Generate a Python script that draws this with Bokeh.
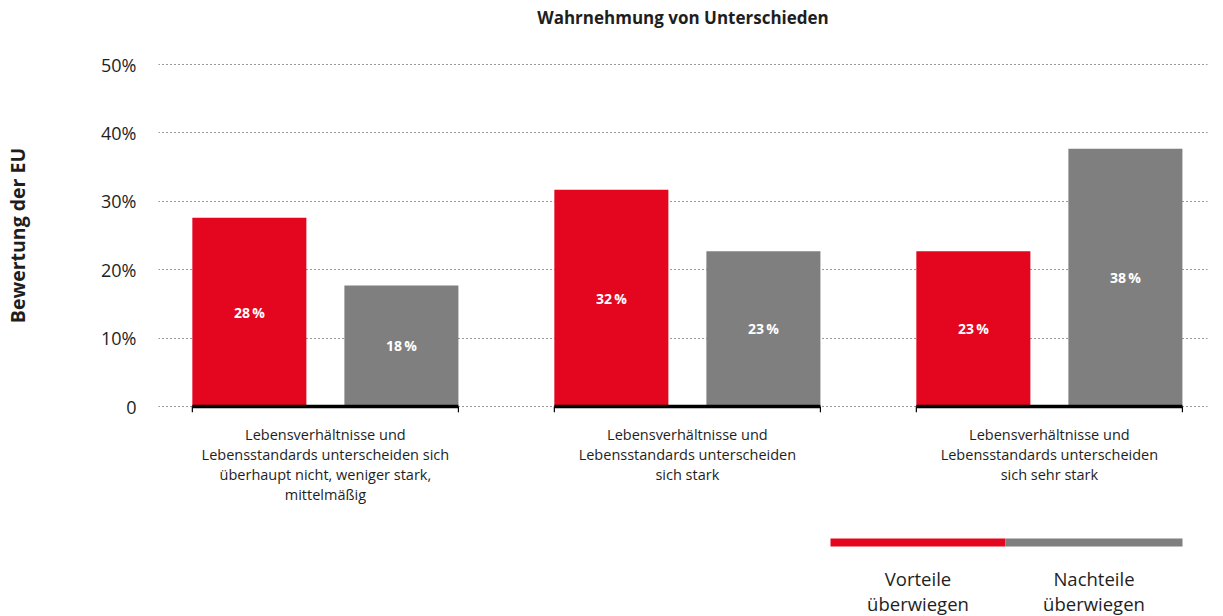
import math
from bokeh.plotting import figure
from bokeh.models import Range1d, FixedTicker, ColumnDataSource
from bokeh.layouts import row
from bokeh.embed import file_html
from bokeh.resources import INLINE
from bokeh.core.properties import value

# ---------------- data ----------------
title_text = "Wahrnehmung von Unterschieden"
y_title = "Bewertung der EU"
categories = [
    "Lebensverhältnisse und\nLebensstandards unterscheiden sich\nüberhaupt nicht, weniger stark,\nmittelmäßig",
    "Lebensverhältnisse und\nLebensstandards unterscheiden\nsich stark",
    "Lebensverhältnisse und\nLebensstandards unterscheiden\nsich sehr stark",
]
vorteile = [27.6, 31.7, 22.7]
nachteile = [17.7, 22.7, 37.7]
series_names = ["Vorteile\nüberwiegen", "Nachteile\nüberwiegen"]
y_ticks = [0, 10, 20, 30, 40, 50]
y_tick_labels = ["0", "10%", "20%", "30%", "40%", "50%"]

# ---------------- style / layout ----------------
RED = "#E3061E"
GRAY = "#7F7F7F"
TXT = "#1e1e1e"
FONT = "Open Sans"
colors = [RED, GRAY]
offset = 0.21
bar_w = 0.315

W, H = 1223, 616
LW = 40                     # width of the strip holding the y title
FL, FR = 158, 1207          # frame left / right (page px)
GROUP_PX = 362.0            # px per group unit
PCT_PX = 6.84               # px per percent
ZERO_PX = 406.0             # page row of 0 %
X0 = -0.461
X1 = X0 + (FR - FL) / GROUP_PX
Y1 = ZERO_PX / PCT_PX
Y0 = -(H - ZERO_PX) / PCT_PX


def dx(px):  # page x -> data x
    return X0 + (px - FL) / GROUP_PX


def dy(py):  # page y -> data y
    return (ZERO_PX - py) / PCT_PX


groups = list(range(len(categories)))
yr = Range1d(Y0, Y1)

# strip with the vertical axis title
t = figure(width=LW, height=H, output_backend="svg", toolbar_location=None,
           x_range=Range1d(0, LW), y_range=yr, frame_width=LW, frame_height=H,
           min_border=0)
t.axis.visible = False
t.grid.visible = False
t.outline_line_color = None
t.text(x=[17], y=[(y_ticks[0] + y_ticks[-1]) / 2], text=[y_title], angle=math.pi / 2,
       text_font=value(FONT), text_font_size="19.5px", text_font_style="bold",
       text_color=TXT, text_align="center", text_baseline="middle")

p = figure(width=W - LW, height=H, output_backend="svg", toolbar_location=None,
           x_range=Range1d(X0, X1), y_range=yr,
           frame_width=FR - FL, frame_height=H,
           min_border_left=FL - LW, min_border_right=W - FR, min_border_top=0, min_border_bottom=0)
p.outline_line_color = None
p.background_fill_color = "white"

# grid
p.xgrid.visible = False
p.ygrid.ticker = FixedTicker(ticks=y_ticks)
p.ygrid.grid_line_color = "#333333"
p.ygrid.grid_line_dash = "1 3"
p.ygrid.grid_line_width = 1

# y axis
p.yaxis.ticker = FixedTicker(ticks=y_ticks)
p.yaxis.major_label_overrides = {tk: l for tk, l in zip(y_ticks, y_tick_labels)}
p.yaxis.axis_line_color = None
p.yaxis.major_tick_line_color = None
p.yaxis.minor_tick_line_color = None
p.yaxis.major_tick_out = 0
p.yaxis.major_tick_in = 0
p.yaxis.minor_tick_out = 0
p.yaxis.major_label_standoff = 22
p.yaxis.major_label_text_font = FONT
p.yaxis.major_label_text_font_size = "18px"
p.yaxis.major_label_text_color = TXT
p.xaxis.visible = False

# chart title
p.text(x=[(X0 + X1) / 2], y=[dy(17)], text=[title_text], text_font=value(FONT),
       text_font_size="17px", text_font_style="bold", text_color=TXT,
       text_align="center", text_baseline="middle")

# bars
for i, (vals, col) in enumerate(zip([vorteile, nachteile], colors)):
    xs = [g + (-offset if i == 0 else offset) for g in groups]
    src = ColumnDataSource(dict(x=xs, top=vals, mid=[v / 2 for v in vals],
                                lab=[f"{round(v)}\u2009%" for v in vals]))
    p.vbar(x="x", top="top", bottom=0, width=bar_w, source=src,
           fill_color=col, line_color=None)
    p.text(x="x", y="mid", text="lab", source=src, text_color="white",
           text_font=value(FONT), text_font_size="14px", text_font_style="bold",
           text_align="center", text_baseline="middle")

# baseline per group
left = [g - offset - bar_w / 2 for g in groups]
right = [g + offset + bar_w / 2 for g in groups]
p.segment(x0=left, x1=right, y0=[0] * 3, y1=[0] * 3, line_color="black", line_width=3.5)
p.segment(x0=left + right, x1=left + right, y0=[0] * 6, y1=[-0.85] * 6,
          line_color="black", line_width=1.2)

# category labels
p.text(x=groups, y=[dy(424)] * 3, text=categories, text_font=value(FONT),
       text_font_size="14.5px", text_color=TXT, text_align="center",
       text_baseline="top", text_line_height=1.07)

# legend (colour strips with captions below)
lx0 = [dx(830), dx(1005)]
lx1 = [dx(1005), dx(1182)]
p.segment(x0=lx0, x1=lx1, y0=[dy(542)] * 2, y1=[dy(542)] * 2, line_color=colors, line_width=8)
p.text(x=[(a + b) / 2 for a, b in zip(lx0, lx1)], y=[dy(590.5)] * 2, text=series_names,
       text_font=value(FONT), text_font_size="18.5px", text_color=TXT,
       text_align="center", text_baseline="middle", text_line_height=1.0)

open("out.html", "w").write(file_html(row(t, p, spacing=0), INLINE))
